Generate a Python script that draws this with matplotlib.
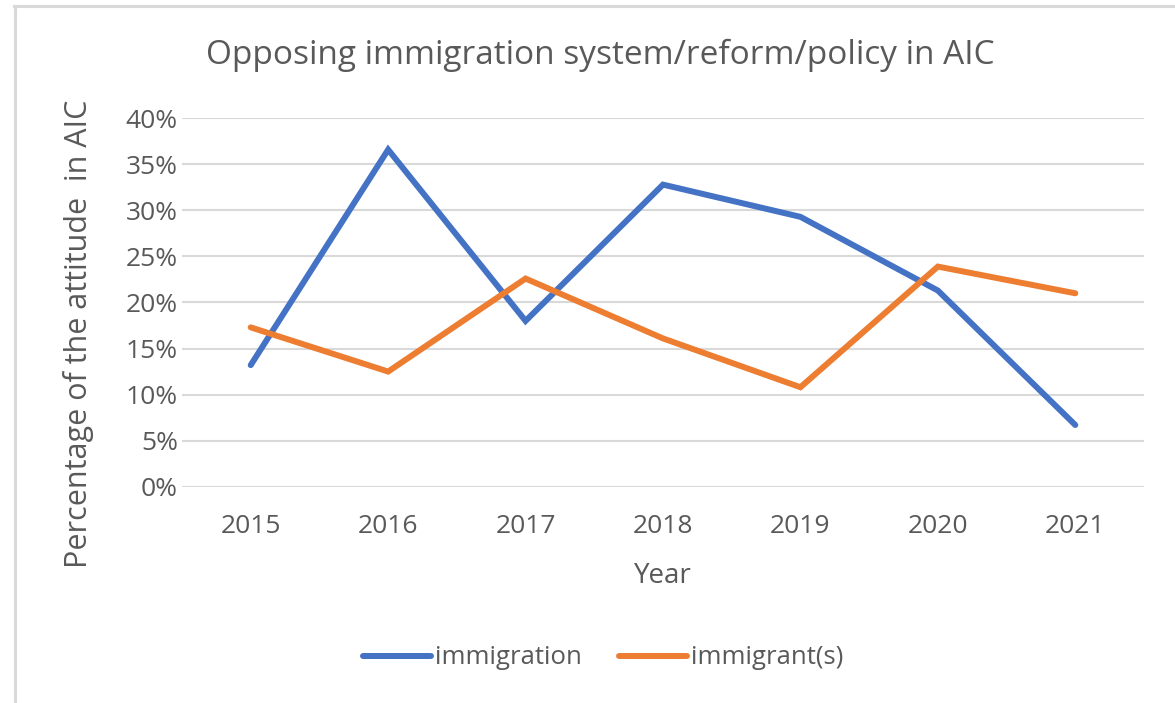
import matplotlib
matplotlib.use("Agg")
import matplotlib.pyplot as plt
from matplotlib.ticker import MultipleLocator, PercentFormatter
from matplotlib.lines import Line2D

years = ["2015", "2016", "2017", "2018", "2019", "2020", "2021"]
immigration = [13.2, 36.6, 18.0, 32.8, 29.3, 21.3, 6.7]
immigrants = [17.3, 12.5, 22.6, 16.1, 10.8, 23.9, 21.0]

blue = "#4472C4"
orange = "#ED7D31"
text_color = "#595959"
grid_color = "#D9D9D9"

plt.rcParams["font.family"] = ["Open Sans", "DejaVu Sans"]

fig = plt.figure(figsize=(11.75, 7.03), dpi=100)
ax = fig.add_axes([182 / 1175, 1 - 486.7 / 703, (1144 - 182) / 1175, (486.7 - 118.3) / 703])

x = range(len(years))
ax.plot(x, immigration, color=blue, lw=4.3, solid_capstyle="round",
        solid_joinstyle="miter", label="immigration", zorder=3)
ax.plot(x, immigrants, color=orange, lw=4.3, solid_capstyle="round",
        solid_joinstyle="miter", label="immigrant(s)", zorder=3)

ax.set_xlim(-0.5, len(years) - 0.5)
ax.set_ylim(0, 40)
ax.yaxis.set_major_locator(MultipleLocator(5))
ax.yaxis.set_major_formatter(PercentFormatter(decimals=0))
ax.set_xticks(list(x))
ax.set_xticklabels(years)
ax.grid(axis="y", color=grid_color, lw=1.5, zorder=0)
ax.set_axisbelow(True)
for s in ax.spines.values():
    s.set_visible(False)
ax.tick_params(axis="both", length=0, colors=text_color, labelsize=19)
ax.tick_params(axis="x", pad=20)
ax.tick_params(axis="y", pad=3)

ax.set_xlabel("Year", fontsize=20, color=text_color, labelpad=16)
ylab = ax.set_ylabel("Percentage of the attitude  in AIC", fontsize=22, color=text_color)
ylab.set_rotation_mode("default")
ylab.set_va("center")
ylab.set_ha("center")
ax.yaxis.set_label_coords(-0.108, 0.415)

fig.text(600 / 1175, 1 - 55 / 703, "Opposing immigration system/reform/policy in AIC",
         ha="center", va="center", fontsize=24, color=text_color)

handles = [Line2D([], [], color=blue, lw=4.3, solid_capstyle="round"),
           Line2D([], [], color=orange, lw=4.3, solid_capstyle="round")]
fig.legend(handles, ["immigration", "immigrant(s)"], loc="center",
           bbox_to_anchor=(603 / 1175, 1 - 658 / 703), ncol=2, frameon=False,
           fontsize=18.5, labelcolor=text_color, handlelength=2.65, handletextpad=0.15,
           columnspacing=1.45)

# frame edges along the top and left
fig.add_artist(Line2D([14 / 1175, 1], [1 - 6 / 703, 1 - 6 / 703], color=grid_color, lw=2.2))
fig.add_artist(Line2D([15 / 1175, 15 / 1175], [0, 1 - 6 / 703], color=grid_color, lw=2.2))

fig.savefig("out.png", dpi=100, facecolor="white")
